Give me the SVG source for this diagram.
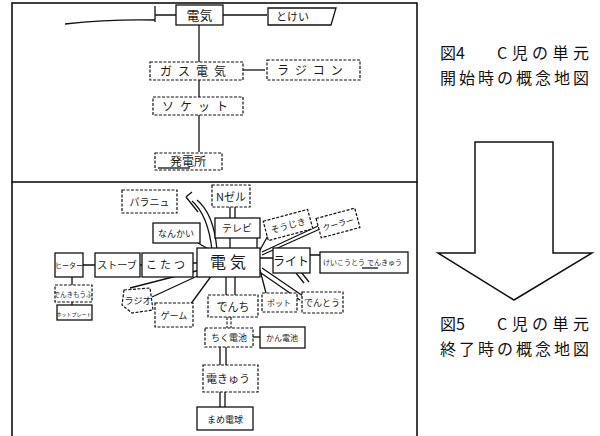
<svg xmlns="http://www.w3.org/2000/svg" width="600" height="436" viewBox="0 0 600 436">
<style>
.panel{fill:none;stroke:#111;stroke-width:1.6}
.box{fill:#fff;stroke:#111;stroke-width:1.3}
.dbox{fill:#fff;stroke:#111;stroke-width:1.2;stroke-dasharray:3 1.5}
.hw{font-family:"Noto Sans CJK JP","Noto Sans",sans-serif;fill:#1a1a1a}
.cap{font-family:"Noto Sans CJK JP","Noto Sans",sans-serif;fill:#111;font-size:16px}
.ln{fill:none;stroke:#111;stroke-width:1.3}
.dl{fill:none;stroke:#111;stroke-width:1.1;stroke-dasharray:3 1.5}
</style>
<rect width="600" height="436" fill="#fff"/>
<!-- panels -->
<rect class="panel" x="12" y="3" width="405" height="179"/>
<path class="panel" d="M12,182 V440 M417,182 V440"/>

<!-- top map connectors -->
<g id="connectors-top">
<path class="ln" d="M176,15 H155 M155,6 V22 M155,20 Q110,19 65,24"/>
<path class="ln" d="M223,15 H267"/>
<path class="ln" d="M199,25 V62"/>
<path class="ln" d="M243,70 H265"/>
<path class="ln" d="M199,80 V97"/>
<path class="ln" d="M199,115 V152"/>
</g>
<g id="t-denki"><rect class="box" x="176" y="5" width="47" height="20"/><text class="hw" x="199.5" y="20" font-size="13" text-anchor="middle">電気</text></g>
<g id="t-tokei"><path class="box" d="M268,8 H336 L331,25 H268 Z"/><text class="hw" x="276" y="21" font-size="11">とけい</text></g>
<g id="t-gasu"><rect class="dbox" x="150" y="62" width="93" height="18"/><text class="hw" x="196" y="76" font-size="12" text-anchor="middle" letter-spacing="6">ガス電気</text></g>
<g id="t-rajikon"><rect class="dbox" x="267" y="60" width="93" height="20"/><text class="hw" x="313" y="75" font-size="12" text-anchor="middle" letter-spacing="6">ラジコン</text></g>
<g id="t-soketto"><rect class="dbox" x="153" y="97" width="90" height="18"/><text class="hw" x="198" y="111" font-size="12" text-anchor="middle" letter-spacing="6">ソケット</text></g>
<g id="t-hatsuden"><rect class="dbox" x="155" y="153" width="67" height="17"/><text class="hw" x="188" y="166" font-size="12" text-anchor="middle">発電所</text><path class="ln" d="M158,168 H190"/></g>

<!-- bottom map connectors -->
<g id="connectors-bottom">
<path class="ln" d="M186,197 L192,192 M186,197 L198,212"/>
<path class="ln" d="M192,201 Q208,215 212,250 M197,200 Q214,214 217,250"/>
<path class="ln" d="M230,207 V218 M235,207 V218"/>
<path class="ln" d="M198,243 L210,250 M230,238 V248 M257,238 L257,248"/>
<path class="ln" d="M260,250 L270,232 M262,252 L318,226 M262,255 L320,229"/>
<path class="ln" d="M260,258 L273,258 M310,255 H320"/>
<path class="ln" d="M296,273 L304,283 M301,272 L309,282"/>
<path class="ln" d="M260,270 L266,293 M262,268 L303,296 M261,273 L300,300"/>
<path class="ln" d="M226,277 V295 M235,277 V295"/>
<path class="dl" d="M227,317 V328 M231,317 V328"/>
<path class="ln" d="M253,337 H260"/>
<path class="ln" d="M220,347 V365 M226,347 V365"/>
<path class="ln" d="M220,392 V407 M225,392 V407"/>
<path class="ln" d="M212,275 L190,305 M206,272 L152,297 M200,270 L130,288"/>
<path class="ln" d="M193,263 H197 M140,265 H142 M83,265 H95"/>
<path class="ln" d="M72,277 V285 M72,302 V305"/>
</g>

<g id="b-parasyu"><rect class="dbox" x="122" y="190" width="55" height="23"/><text class="hw" x="149.5" y="206" font-size="10" text-anchor="middle">パラニュ</text></g>
<g id="b-neon"><rect class="dbox" x="212" y="185" width="38" height="22"/><text class="hw" x="231" y="201" font-size="11" text-anchor="middle">Nゼル</text></g>
<g id="b-terebi"><rect class="box" x="215" y="218" width="45" height="20"/><text class="hw" x="237" y="232" font-size="10" text-anchor="middle">テレビ</text></g>
<g id="b-nankai"><rect class="box" x="153" y="223" width="47" height="20"/><text class="hw" x="176" y="237" font-size="9" text-anchor="middle">なんかい</text></g>
<g id="b-soujiki"><g transform="rotate(-15 288 225)"><rect class="dbox" x="265" y="215" width="46" height="20"/><text class="hw" x="288" y="229" font-size="9" text-anchor="middle">そうじき</text></g></g>
<g id="b-kura"><g transform="rotate(-15 338 223)"><rect class="dbox" x="318" y="213" width="40" height="20"/><text class="hw" x="338" y="227" font-size="8" text-anchor="middle">クーラー</text></g></g>
<g id="b-denki"><rect class="box" x="197" y="248" width="63" height="29"/><text class="hw" x="230" y="268" font-size="16" text-anchor="middle" letter-spacing="4">電気</text></g>
<g id="b-heater"><rect class="box" x="55" y="253" width="28" height="24"/><text class="hw" x="69" y="268" font-size="7" text-anchor="middle">ヒーター</text></g>
<g id="b-stove"><rect class="box" x="95" y="253" width="45" height="24"/><text class="hw" x="117" y="269" font-size="10" text-anchor="middle">ストーブ</text></g>
<g id="b-kotatsu"><rect class="box" x="142" y="253" width="51" height="24"/><text class="hw" x="167" y="269" font-size="11" text-anchor="middle" letter-spacing="3">こたつ</text></g>
<g id="b-moufu"><rect class="dbox" x="55" y="285" width="37" height="17"/><text class="hw" x="73" y="297" font-size="6.5" text-anchor="middle">でんきもうふ</text></g>
<g id="b-plate"><rect class="box" x="57" y="305" width="35" height="15"/><text class="hw" x="74" y="316" font-size="5" text-anchor="middle">ホットプレート</text></g>
<g id="b-rajio"><path class="dbox" d="M124,290 L150,288 L153,310 L132,313 L122,305 Z"/><text class="hw" x="138" y="304" font-size="9" text-anchor="middle">ラジオ</text></g>
<g id="b-game"><rect class="dbox" x="155" y="303" width="38" height="24"/><text class="hw" x="174" y="319" font-size="9" text-anchor="middle">ゲーム</text></g>
<g id="b-light"><rect class="box" x="273" y="248" width="37" height="25"/><text class="hw" x="291" y="266" font-size="12" text-anchor="middle">ライト</text></g>
<g id="b-keikoutou"><rect class="box" x="320" y="252" width="88" height="21"/><text class="hw" x="323" y="265" font-size="7">けいこうとう</text><text class="hw" x="367" y="265" font-size="7">でんきゅう</text><path class="ln" d="M362,268 H378"/></g>
<g id="b-denchi"><rect class="dbox" x="208" y="295" width="50" height="22"/><text class="hw" x="233" y="311" font-size="11" text-anchor="middle">でんち</text></g>
<g id="b-pot"><rect class="dbox" x="262" y="293" width="35" height="19"/><text class="hw" x="279" y="306" font-size="8" text-anchor="middle">ポット</text></g>
<g id="b-dentou"><rect class="dbox" x="302" y="292" width="41" height="21"/><text class="hw" x="322" y="306" font-size="9" text-anchor="middle">でんとう</text></g>
<g id="b-chikudenchi"><rect class="dbox" x="205" y="328" width="48" height="19"/><text class="hw" x="229" y="341" font-size="9" text-anchor="middle">ちく電池</text></g>
<g id="b-kandenchi"><rect class="box" x="260" y="327" width="45" height="21"/><text class="hw" x="282" y="341" font-size="8" text-anchor="middle">かん電池</text></g>
<g id="b-denkyuu"><rect class="dbox" x="203" y="365" width="55" height="27"/><text class="hw" x="228" y="383" font-size="11" text-anchor="middle">電きゅう</text></g>
<g id="b-mame"><rect class="box" x="197" y="407" width="56" height="23"/><text class="hw" x="225" y="423" font-size="9" text-anchor="middle">まめ電球</text></g>

<!-- arrow -->
<g id="arrow"><polygon points="475,142 553,142 553,253 592,253 514,300 438,253 475,253" fill="#fff" stroke="#111" stroke-width="1.5" stroke-linejoin="miter"/></g>

<!-- captions -->
<g id="cap4"><text class="cap" x="440" y="59">図4</text><text class="cap" x="497" y="59" textLength="92" lengthAdjust="spacing">C児の単元</text><text class="cap" x="440" y="84" textLength="149" lengthAdjust="spacing">開始時の概念地図</text></g>
<g id="cap5"><text class="cap" x="440" y="330">図5</text><text class="cap" x="497" y="330" textLength="92" lengthAdjust="spacing">C児の単元</text><text class="cap" x="440" y="355" textLength="149" lengthAdjust="spacing">終了時の概念地図</text></g>
</svg>
